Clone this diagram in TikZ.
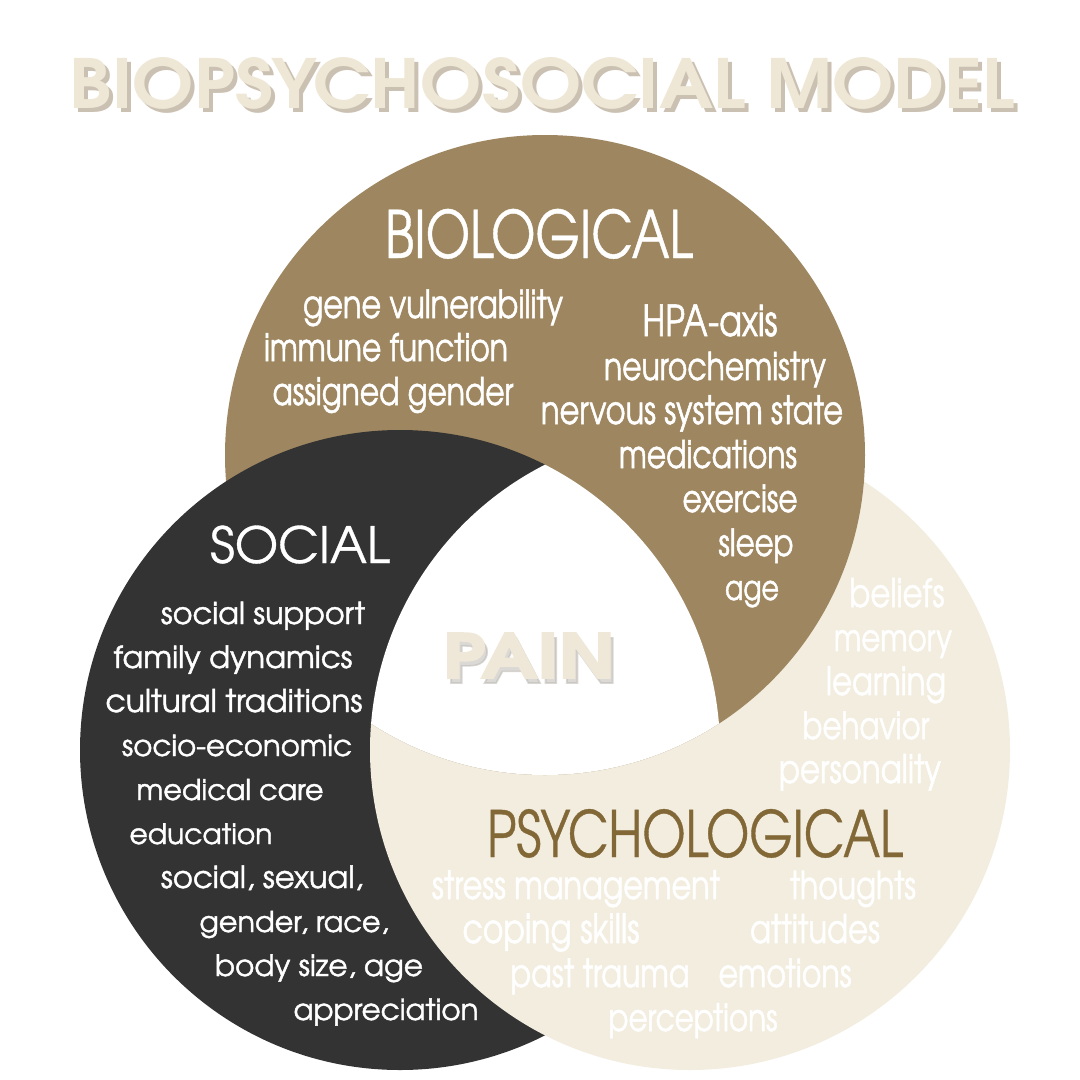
\documentclass[tikz,border=0pt]{standalone}
\usepackage{fontspec}
\usepackage{graphicx}
\newfontfamily\advreg{texgyreadventor-regular.otf}[FakeBold=1.4]
\newfontfamily\advhead{texgyreadventor-regular.otf}[FakeBold=0.7]
\newfontfamily\advnarrow{texgyreadventor-regular.otf}[FakeStretch=0.78,FakeBold=1.3]
\newfontfamily\advnarrowhead{texgyreadventor-regular.otf}[FakeStretch=0.78,FakeBold=0.6]
\newfontfamily\advbold{texgyreadventor-bold.otf}
\newfontfamily\advheavy{texgyreadventor-bold.otf}[FakeBold=2.5]
\definecolor{biobrown}{HTML}{9E8760}
\definecolor{socdark}{HTML}{333333}
\definecolor{psycream}{HTML}{F2EDDF}
\definecolor{psyhead}{HTML}{836837}
\definecolor{titlecream}{HTML}{EFE7D5}
\definecolor{titleshadow}{HTML}{CBC1B3}
\definecolor{paincream}{HTML}{EFE8D8}
\definecolor{painshade}{HTML}{BEBAB4}
\newcommand\fitw[2]{\resizebox{#1pt}{!}{#2}}
\newcommand\fitwh[3]{\resizebox{#1pt}{#2pt}{#3}}
\begin{document}
\begin{tikzpicture}[x=1pt,y=-1pt,
  txt/.style={anchor=base,inner sep=0pt,outer sep=0pt},
  bioitem/.style={txt,font=\advnarrow,text=white},
  bioheadstyle/.style={txt,font=\advnarrowhead,text=white},
  socitem/.style={txt,font=\advreg,text=white},
  socheadstyle/.style={txt,font=\advhead,text=white},
  psyitem/.style={txt,font=\advnarrow,text=white},
  psyheadstyle/.style={txt,font=\advnarrowhead,text=psyhead}]
\useasboundingbox (0,0) rectangle (1080,1080);
\fill[white] (0,0) rectangle (1080,1080);

% circle centres
\coordinate (B) at (545,455);
\coordinate (S) at (400,750);
\coordinate (P) at (690,750);

\fill[biobrown] (B) circle[radius=320pt];
\fill[socdark] (S) circle[radius=320pt];
\fill[psycream] (P) circle[radius=320pt];
\begin{scope}
  \clip (B) circle[radius=320pt];
  \fill[biobrown] (P) circle[radius=321.5pt];
  \clip (S) circle[radius=320pt];
  \draw[socdark,line width=3pt] (P) circle[radius=321pt];
  \fill[white] (P) circle[radius=320pt];
\end{scope}

% title
\node[txt,font=\advbold,text=titleshadow] (titleshadow) at (546.5,112) {\fitwh{945}{51}{BIOPSYCHOSOCIAL MODEL}};
\node[txt,font=\advbold,text=titlecream] (title) at (542.5,108) {\fitwh{945}{51}{BIOPSYCHOSOCIAL MODEL}};

% biological
\node[bioheadstyle] (biohead) at (539,258) {\fitw{308}{BIOLOGICAL}};
\node[bioitem] (b1) at (433,318) {\fitw{260}{gene vulnerability}};
\node[bioitem] (b2) at (386,361) {\fitw{244}{immune function}};
\node[bioitem] (b3) at (393,405) {\fitw{241}{assigned gender}};
\node[bioitem] (b4) at (710,336) {\fitw{135}{HPA-axis}};
\node[bioitem] (b5) at (715,380) {\fitw{222}{neurochemistry}};
\node[bioitem] (b6) at (692,424) {\fitw{302}{nervous system state}};
\node[bioitem] (b7) at (708,468) {\fitw{178}{medications}};
\node[bioitem] (b8) at (740,512) {\fitw{115}{exercise}};
\node[bioitem] (b9) at (756,556) {\fitw{75}{sleep}};
\node[bioitem] (b10) at (752,600) {\fitw{54}{age}};

% social
\node[socheadstyle] (sochead) at (300,563) {\fitw{180}{SOCIAL}};
\node[socitem] (s1) at (263,624) {\fitw{204}{social support}};
\node[socitem] (s2) at (233,668) {\fitw{239}{family dynamics}};
\node[socitem] (s3) at (234,712) {\fitw{257}{cultural traditions}};
\node[socitem] (s4) at (237,756) {\fitw{230}{socio-economic}};
\node[socitem] (s5) at (230,800) {\fitw{187}{medical care}};
\node[socitem] (s6) at (201,844) {\fitw{143}{education}};
\node[socitem] (s7) at (262,888) {\fitw{202}{social, sexual,}};
\node[socitem] (s8) at (294,932) {\fitw{189}{gender, race,}};
\node[socitem] (s9) at (319,976) {\fitw{208}{body size, age}};
\node[socitem] (s10) at (386,1020) {\fitw{185}{appreciation}};

% psychological
\node[psyheadstyle] (psyhead) at (695,857) {\fitw{416}{PSYCHOLOGICAL}};
\node[psyitem] (p1) at (897,607) {\fitw{95}{beliefs}};
\node[psyitem] (p2) at (893,651) {\fitw{118}{memory}};
\node[psyitem] (p3) at (886,695) {\fitw{120}{learning}};
\node[psyitem] (p4) at (866,739) {\fitw{127}{behavior}};
\node[psyitem] (p5) at (860,783) {\fitw{162}{personality}};
\node[psyitem] (p6) at (576,899) {\fitw{288}{stress management}};
\node[psyitem] (p7) at (853,899) {\fitw{126}{thoughts}};
\node[psyitem] (p8) at (551,943) {\fitw{177}{coping skills}};
\node[psyitem] (p9) at (815,943) {\fitw{130}{attitudes}};
\node[psyitem] (p10) at (600,987) {\fitw{179}{past trauma}};
\node[psyitem] (p11) at (785,987) {\fitw{133}{emotions}};
\node[psyitem] (p12) at (693,1031) {\fitw{169}{perceptions}};

% PAIN with soft shadow
\node[txt,font=\advheavy,text=painshade,opacity=0.55] (painshadow) at (532,683) {\fitwh{172}{45}{PAIN}};
\node[txt,font=\advheavy,text=paincream] (pain) at (529,678) {\fitwh{172}{45}{PAIN}};
\end{tikzpicture}
\end{document}
